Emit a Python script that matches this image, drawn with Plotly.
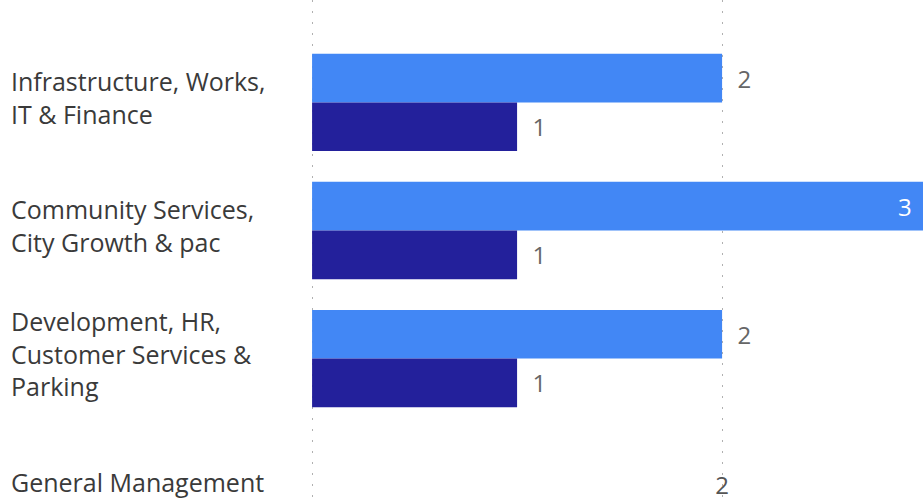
import plotly.graph_objects as go

# Departments shown on the vertical axis (top to bottom)
departments = [
    "Infrastructure, Works,<br>IT & Finance",
    "Community Services,<br>City Growth & pac",
    "Development, HR,<br>Customer Services &<br>Parking",
    "General Management",
]
# Two counts per department; General Management has no entries
count_light = [2, 3, 2, None]
count_dark = [1, 1, 1, None]
x_ticks = [0, 2]

LIGHT = "#4287f5"
DARK = "#23209b"
LABEL_FONT = "Open Sans"
X_MAX = 2.98

def label_positions(vals):
    # values running past the visible axis get their label inside the bar end;
    # missing values get no label at all
    out = []
    for v in vals:
        if v is None:
            out.append("none")
        elif v > X_MAX:
            out.append("inside")
        else:
            out.append("outside")
    return out

fig = go.Figure()
for name, vals, color in [("Count A", count_light, LIGHT), ("Count B", count_dark, DARK)]:
    fig.add_trace(go.Bar(
        y=departments, x=vals, orientation="h", name=name,
        marker=dict(color=color, line=dict(width=0)),
        texttemplate="  %{x}  ", textposition=label_positions(vals),
        insidetextanchor="end",
        insidetextfont=dict(color="white", size=24, family=LABEL_FONT),
        outsidetextfont=dict(color="#666666", size=24, family=LABEL_FONT),
        cliponaxis=True, showlegend=False,
    ))

# Category names as left-aligned text next to the axis
for d in departments:
    fig.add_annotation(
        x=0, xref="paper", y=d, yref="y", xshift=-300, yshift=5,
        text=d, showarrow=False, xanchor="left", yanchor="middle", align="left",
        font=dict(family=LABEL_FONT, size=25, color="#3a3a3a"),
    )

fig.update_layout(
    width=923, height=502,
    margin=dict(l=309, r=0, t=0, b=0),
    paper_bgcolor="white", plot_bgcolor="white",
    barmode="group", bargap=0.24, bargroupgap=0,
    xaxis=dict(
        range=[-0.015, X_MAX], tickvals=x_ticks, ticktext=[str(v) for v in x_ticks],
        showgrid=True, gridcolor="#b0b0b0", griddash="2px,9px", gridwidth=1,
        zeroline=False, showline=False, ticks="",
        ticklabelposition="inside",
        tickfont=dict(family=LABEL_FONT, size=24, color="#555555"),
    ),
    yaxis=dict(
        range=[3.12, -0.8], showticklabels=False, showgrid=False,
        zeroline=False, showline=False, ticks="",
    ),
)

fig.write_html("out.html")
